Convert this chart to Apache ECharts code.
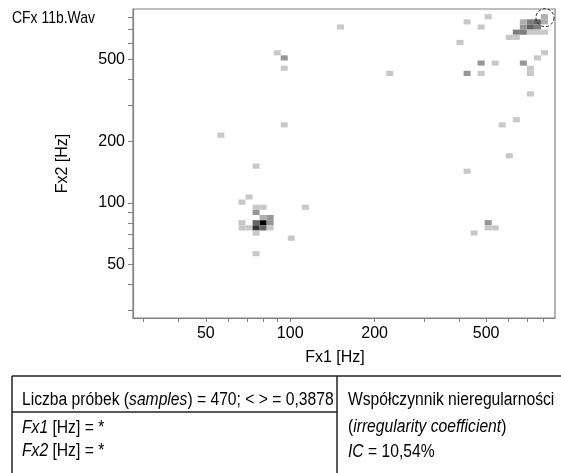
<!DOCTYPE html>
<html>
<head>
<meta charset="utf-8">
<script src="https://cdn.jsdelivr.net/npm/echarts@6/dist/echarts.min.js"></script>
<style>
html,body{margin:0;padding:0;background:#fff;}
#c{width:561px;height:473px;}
</style>
</head>
<body>
<div id="c"></div>
<script>
// ---- data (Hz, bin centres) ----
var fx1 = [75.6,71.3,67.3,75.6,80.1,75.6,113.2,67.3,67.3,71.3,75.6,80.1,84.8,75.6,80.1,84.8,80.1,84.8,75.6,100.9,75.6,56.6,
           95.2,89.9,95.2,151.1,226.4,95.2,
           427.5,508.4,508.4,538.6,452.9,604.5,570.6,640.5,718.9,427.5,479.8,479.8,538.6,678.6,718.9,718.9,761.7,807.0,403.5,479.8,427.5,508.4,
           807.0,807.0,718.9,761.7,718.9,761.7,678.6,678.6,640.5,678.6,604.5,640.5,718.9,761.7,807.0];
var fx2 = [151.1,106.9,100.9,95.2,95.2,89.9,95.2,80.1,75.6,75.6,80.1,80.1,80.1,75.6,75.6,75.6,84.8,84.8,71.3,67.3,56.6,213.7,
           508.4,538.6,452.9,718.9,427.5,239.9,
           142.6,80.1,75.6,75.6,71.3,169.6,239.9,254.2,339.3,427.5,427.5,479.8,479.8,479.8,452.9,427.5,508.4,538.6,604.5,718.9,761.7,807.0,
           807.0,761.7,761.7,761.7,718.9,718.9,718.9,761.7,678.6,678.6,640.5,640.5,678.6,678.6,678.6];
var counts = [2,2,2,2,2,4,2,2,2,2,6,10,4,8,6,2,3,4,2,2,2,2,
              4,2,2,2,2,2,
              2,4,2,2,2,2,2,2,2,4,2,4,2,4,2,2,2,2,2,2,2,2,
              3,3,5,6,6,5,4,3,5,5,2,2,2,2,2];
var circled = [[807.0, 807.0]];
var xTicks = [30,40,50,60,70,80,90,100,200,300,400,500,600,700,800];
var xLabels = [50,100,200,500];
var yTicks = [30,40,50,60,70,80,90,100,200,300,400,500,600,700,800];
var yLabels = [50,100,200,500];
var axisMin = 27.5, axisMax = 880;
var title = 'CFx 11b.Wav';

var FONT = "'Liberation Sans',Arial,sans-serif";
var SX = 0.87;
var cells = fx1.map(function(v,i){return [v, fx2[i], counts[i]];});

function renderCell(params, api){
  var f1 = api.value(0), f2 = api.value(1), v = api.value(2);
  var k = Math.floor(12*Math.log2(f1/axisMin));
  var j = Math.floor(12*Math.log2(f2/axisMin));
  var x0 = axisMin*Math.pow(2,k/12), x1 = axisMin*Math.pow(2,(k+1)/12);
  var y0 = axisMin*Math.pow(2,j/12), y1 = axisMin*Math.pow(2,(j+1)/12);
  var p0 = api.coord([x0,y1]), p1 = api.coord([x1,y0]);
  var g = Math.round(250 - 25*v);
  return {type:'rect', shape:{x:p0[0], y:p0[1], width:p1[0]-p0[0], height:p1[1]-p0[1]},
          style:{fill:'rgb('+g+','+g+','+g+')'}};
}
function renderCircle(params, api){
  var p = api.coord([api.value(0), api.value(1)]);
  return {type:'circle', shape:{cx:p[0]+0.5, cy:p[1]+1, r:9},
          style:{fill:null, stroke:'#222', lineWidth:1, lineDash:[3,2]}};
}

var axisCommon = {
  type:'log', logBase:10, min:axisMin, max:axisMax,
  axisLine:{show:true, lineStyle:{color:'#808080', width:1.2}},
  splitLine:{show:false},
  minorTick:{show:false}
};

function txt(x, y, rich, sx, size){
  size = size || 18;
  return {type:'text', x:x, y:y, scaleX:sx, style:{text:rich, verticalAlign:'middle',
    rich:{n:{font:size+'px '+FONT, fill:'#000'}, i:{font:'italic '+size+'px '+FONT, fill:'#000'}}}};
}

var chart = echarts.init(document.getElementById('c'), null, {renderer:'canvas'});
chart.setOption({
  animation:false,
  grid:{left:133, top:9, right:6, bottom:155, show:true, borderColor:'#808080', borderWidth:1.2, outerBoundsMode:'none'},
  xAxis: Object.assign({}, axisCommon, {
    name:'Fx1 [Hz]', nameLocation:'middle', nameGap:32,
    nameTextStyle:{fontFamily:FONT, fontSize:16, color:'#000', padding:[0,18,0,0]},
    axisTick:{show:true, inside:false, length:4, lineStyle:{color:'#808080'}, customValues:xTicks},
    axisLabel:{show:true, margin:8, fontFamily:FONT, fontSize:16, color:'#000', customValues:xLabels,
               formatter:function(v){return String(Math.round(v));}}
  }),
  yAxis: Object.assign({}, axisCommon, {
    name:'Fx2 [Hz]', nameLocation:'middle', nameGap:62, nameRotate:90,
    nameTextStyle:{fontFamily:FONT, fontSize:16, color:'#000'},
    axisTick:{show:true, inside:false, length:5, lineStyle:{color:'#808080'}, customValues:yTicks},
    axisLabel:{show:true, margin:8, fontFamily:FONT, fontSize:16, color:'#000', customValues:yLabels,
               formatter:function(v){return String(Math.round(v));}}
  }),
  series:[
    {type:'custom', coordinateSystem:'cartesian2d', data:cells, renderItem:renderCell, clip:true},
    {type:'custom', coordinateSystem:'cartesian2d', data:circled, renderItem:renderCircle, clip:false}
  ],
  graphic:[
    txt(12, 18, '{n|' + title + '}', 0.82, 17),
    // table
    {type:'line', shape:{x1:12, y1:376, x2:561, y2:376}, style:{stroke:'#222', lineWidth:1.5}},
    {type:'line', shape:{x1:12, y1:376, x2:12, y2:473}, style:{stroke:'#222', lineWidth:1.5}},
    {type:'line', shape:{x1:337, y1:376, x2:337, y2:473}, style:{stroke:'#222', lineWidth:1.5}},
    {type:'line', shape:{x1:12, y1:412, x2:337, y2:412}, style:{stroke:'#222', lineWidth:1.5}},
    txt(22, 400, '{n|Liczba próbek (}{i|samples}{n|) = 470; < > = 0,3878}', SX),
    txt(22, 428, '{i|Fx1}{n| [Hz] = *}', SX),
    txt(22, 451, '{i|Fx2}{n| [Hz] = *}', SX),
    txt(348, 400, '{n|Współczynnik nieregularności}', SX),
    txt(348, 427, '{n|(}{i|irregularity coefficient}{n|)}', SX),
    txt(348, 452, '{i|IC}{n| = 10,54%}', SX)
  ]
});
</script>
</body>
</html>
